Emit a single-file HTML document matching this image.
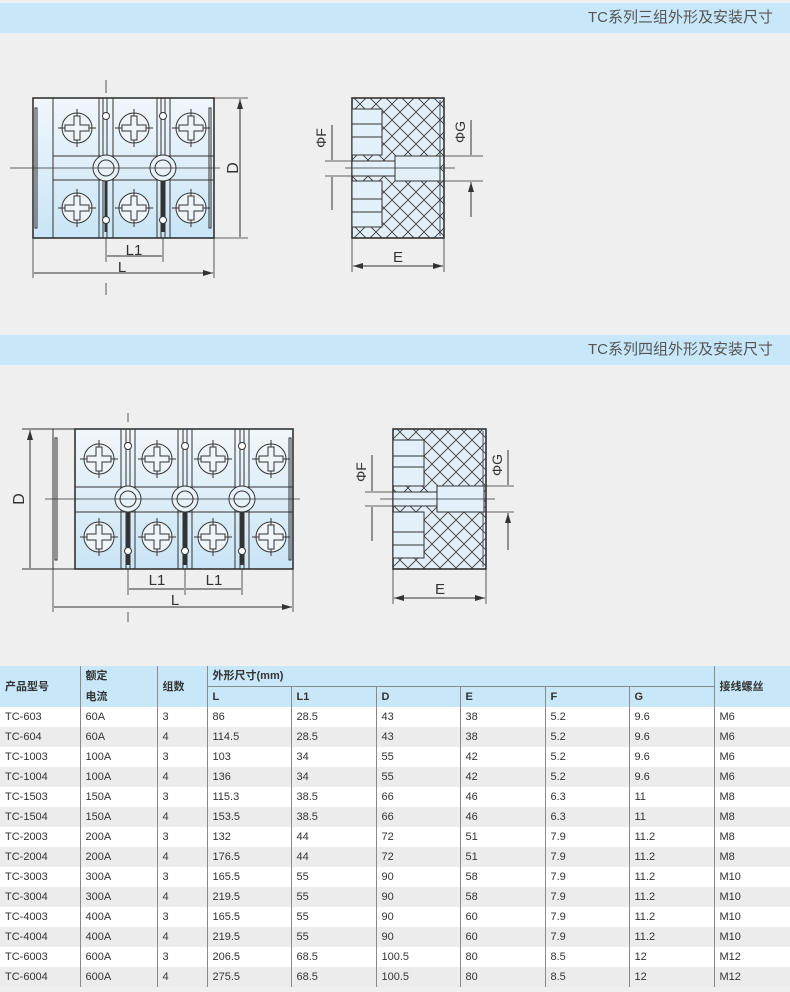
<!DOCTYPE html>
<html><head><meta charset="utf-8"><style>
*{margin:0;padding:0;box-sizing:border-box}
body{width:790px;height:992px;background:#eeefee;position:relative;overflow:hidden;font-family:"Liberation Sans","Noto Sans CJK SC",sans-serif;color:#333}
.bar{position:absolute;left:0;width:790px;height:30px;background:#c8e7f8;font-size:15px;color:#555;text-align:right;padding-right:17px;line-height:30px}
svg{position:absolute;left:0;top:0}
table{position:absolute;left:0;top:666px;width:790px;border-collapse:collapse;table-layout:fixed;font-size:11px}
td{height:20px;padding:0 0 0 5px;border-left:1px solid #8a8a8a;white-space:nowrap;line-height:20px}
td:first-child{border-left:none}
thead td{background:#c8e7f8;font-weight:bold;font-size:11px}
tbody tr:nth-child(even) td{background:#ececec}
tbody tr:nth-child(odd) td{background:#fff}
</style></head><body>
<div class="bar" style="top:3px">TC系列三组外形及安装尺寸</div>
<div class="bar" style="top:335px">TC系列四组外形及安装尺寸</div>
<svg width="790" height="660" viewBox="0 0 790 660">
<defs>
<linearGradient id="gr" x1="0" y1="0" x2="0" y2="1"><stop offset="0" stop-color="#f1f6fa"/><stop offset="1" stop-color="#c9e5f6"/></linearGradient>
<pattern id="ht" patternUnits="userSpaceOnUse" width="16" height="16"><rect width="16" height="16" fill="#e2eef6"/><path d="M0,0L16,16M16,0L0,16" stroke="#333" stroke-width="0.8"/></pattern>
<marker id="ar" viewBox="0 0 10 6" refX="10" refY="3" markerWidth="10" markerHeight="6" orient="auto-start-reverse" markerUnits="userSpaceOnUse"><path d="M0,0L10,3L0,6Z" fill="#333"/></marker>
<g id="sc" fill="none" stroke="#333" stroke-width="1"><circle r="15" fill="#eef5fa"/><path d="M-19,0H19M0,-19V19"/><path d="M-3,-12H3V-3H12V3H3V12H-3V3H-12V-3H-3Z" fill="#eef5fa"/></g>
</defs>
<g stroke="#333" stroke-width="1" fill="none">
<!-- top front view -->
<rect x="33" y="98" width="181" height="140" fill="url(#gr)" stroke-width="1.6"/>
<path d="M53,98V238M99,98V238M103,98V238M107,98V238M113,98V238M157,98V238M161,98V238M165,98V238M170,98V238M53,156H214M53,180H214"/>
<rect x="35" y="108" width="2" height="120"/><rect x="209" y="108" width="2" height="120"/>
<use href="#sc" x="77" y="128"/><use href="#sc" x="134" y="128"/><use href="#sc" x="191" y="128"/>
<use href="#sc" x="77" y="208"/><use href="#sc" x="134" y="208"/><use href="#sc" x="191" y="208"/>
<path d="M106,168V232M163,168V232" stroke-width="3"/>
<circle cx="106" cy="168" r="13" fill="#e8f2f9"/><circle cx="106" cy="168" r="8"/>
<circle cx="163" cy="168" r="13" fill="#e8f2f9"/><circle cx="163" cy="168" r="8"/>
<circle cx="106" cy="116" r="3.5" fill="#fff"/><circle cx="106" cy="220" r="3.5" fill="#fff"/>
<circle cx="163" cy="116" r="3.5" fill="#fff"/><circle cx="163" cy="220" r="3.5" fill="#fff"/>
<path d="M214,98H248M214,238H248M106,238V262M163,238V262M33,238V278M214,238V278M106,80V93M106,283V295M10,168H220" stroke-width="0.8"/>
<path d="M240,99V237M107,256H162M34,273H213" marker-start="url(#ar)" marker-end="url(#ar)"/>
<!-- top side view -->
<rect x="352" y="98" width="92" height="140" fill="url(#ht)" stroke-width="1.6"/>
<path d="M440,100V236" stroke-width="0.8"/>
<rect x="352" y="109" width="30" height="46" fill="#e3f0f9"/><path d="M352,124H382M352,137H382"/>
<rect x="352" y="181" width="30" height="46" fill="#e3f0f9"/><path d="M352,199H382M352,212H382"/>
<rect x="352" y="161" width="43" height="15" fill="#e3f0f9"/>
<rect x="395" y="156" width="45" height="25" fill="#e3f0f9"/>
<path d="M325,161H395M325,176H395M440,156H483M440,181H483M345,168H455M352,238V272M444,238V272" stroke-width="0.8"/>
<path d="M332,125V160M332,210V177M471,120V155M471,217V182" marker-end="url(#ar)"/>
<path d="M353,266H443" marker-start="url(#ar)" marker-end="url(#ar)"/>
<!-- bottom front view -->
<rect x="75" y="429" width="218" height="140" fill="url(#gr)" stroke-width="1.6"/>
<path d="M53,429V569M22,429H75M22,569H75"/>
<rect x="55" y="438" width="2" height="122"/><rect x="289" y="438" width="2" height="122"/>
<path d="M121,429V569M126,429V569M130,429V569M135,429V569M178,429V569M183,429V569M187,429V569M192,429V569M235,429V569M240,429V569M244,429V569M249,429V569M75,487H293M75,512H293"/>
<use href="#sc" x="99" y="459"/><use href="#sc" x="157" y="459"/><use href="#sc" x="213" y="459"/><use href="#sc" x="271" y="459"/>
<use href="#sc" x="99" y="537"/><use href="#sc" x="157" y="537"/><use href="#sc" x="213" y="537"/><use href="#sc" x="271" y="537"/>
<path d="M128,499V565M185,499V565M242,499V565" stroke-width="3"/>
<circle cx="128" cy="499" r="13" fill="#e8f2f9"/><circle cx="128" cy="499" r="8"/>
<circle cx="185" cy="499" r="13" fill="#e8f2f9"/><circle cx="185" cy="499" r="8"/>
<circle cx="242" cy="499" r="13" fill="#e8f2f9"/><circle cx="242" cy="499" r="8"/>
<circle cx="128" cy="446" r="3.5" fill="#fff"/><circle cx="128" cy="551" r="3.5" fill="#fff"/>
<circle cx="185" cy="446" r="3.5" fill="#fff"/><circle cx="185" cy="551" r="3.5" fill="#fff"/>
<circle cx="242" cy="446" r="3.5" fill="#fff"/><circle cx="242" cy="551" r="3.5" fill="#fff"/>
<path d="M128,569V595M185,569V595M242,569V595M53,569V612M293,569V612M128,413V422M128,612V622M45,499H300" stroke-width="0.8"/>
<path d="M30,430V568M129,589H184M186,589H241M54,607H292" marker-start="url(#ar)" marker-end="url(#ar)"/>
<!-- bottom side view -->
<rect x="393" y="429" width="93" height="140" fill="url(#ht)" stroke-width="1.6"/>
<path d="M483,431V567" stroke-width="0.8"/>
<rect x="393" y="440" width="31" height="46" fill="#e3f0f9"/><path d="M393,456H424M393,467H424"/>
<rect x="393" y="512" width="31" height="46" fill="#e3f0f9"/><path d="M393,532H424M393,545H424"/>
<rect x="393" y="492" width="44" height="14" fill="#e3f0f9"/>
<rect x="437" y="486" width="47" height="26" fill="#e3f0f9"/>
<path d="M365,492H437M365,506H437M484,486H514M484,512H514M380,499H495M393,569V604M486,569V604" stroke-width="0.8"/>
<path d="M372,455V491M372,541V507M508,450V485M508,550V513" marker-end="url(#ar)"/>
<path d="M394,598H485" marker-start="url(#ar)" marker-end="url(#ar)"/>
</g>
<g font-family="Liberation Sans, sans-serif" font-size="16" fill="#333" text-anchor="middle">
<text x="134" y="255" font-size="15">L1</text>
<text x="122" y="272" font-size="15">L</text>
<text transform="translate(238,168) rotate(-90)">D</text>
<text x="398" y="262" font-size="15">E</text>
<text transform="translate(326,138) rotate(-90)" font-size="14">ΦF</text>
<text transform="translate(465,132) rotate(-90)" font-size="14">ΦG</text>
<text x="157" y="585" font-size="15">L1</text>
<text x="214" y="585" font-size="15">L1</text>
<text x="175" y="605" font-size="15">L</text>
<text transform="translate(24,499) rotate(-90)">D</text>
<text x="440" y="594" font-size="15">E</text>
<text transform="translate(366,472) rotate(-90)" font-size="14">ΦF</text>
<text transform="translate(502,465) rotate(-90)" font-size="14">ΦG</text>
</g>
</svg>
<table>
<colgroup><col style="width:80px"><col style="width:77px"><col style="width:50px"><col style="width:84px"><col style="width:85px"><col style="width:84px"><col style="width:85px"><col style="width:84px"><col style="width:85px"><col style="width:76px"></colgroup>
<thead>
<tr><td rowspan="2">产品型号</td><td>额定</td><td rowspan="2">组数</td><td colspan="6" style="border-bottom:1px solid #8a8a8a">外形尺寸(mm)</td><td rowspan="2">接线螺丝</td></tr>
<tr><td style="border-left:1px solid #8a8a8a">电流</td><td>L</td><td>L1</td><td>D</td><td>E</td><td>F</td><td>G</td></tr>
</thead>
<tbody>
<tr><td>TC-603</td><td>60A</td><td>3</td><td>86</td><td>28.5</td><td>43</td><td>38</td><td>5.2</td><td>9.6</td><td>M6</td></tr>
<tr><td>TC-604</td><td>60A</td><td>4</td><td>114.5</td><td>28.5</td><td>43</td><td>38</td><td>5.2</td><td>9.6</td><td>M6</td></tr>
<tr><td>TC-1003</td><td>100A</td><td>3</td><td>103</td><td>34</td><td>55</td><td>42</td><td>5.2</td><td>9.6</td><td>M6</td></tr>
<tr><td>TC-1004</td><td>100A</td><td>4</td><td>136</td><td>34</td><td>55</td><td>42</td><td>5.2</td><td>9.6</td><td>M6</td></tr>
<tr><td>TC-1503</td><td>150A</td><td>3</td><td>115.3</td><td>38.5</td><td>66</td><td>46</td><td>6.3</td><td>11</td><td>M8</td></tr>
<tr><td>TC-1504</td><td>150A</td><td>4</td><td>153.5</td><td>38.5</td><td>66</td><td>46</td><td>6.3</td><td>11</td><td>M8</td></tr>
<tr><td>TC-2003</td><td>200A</td><td>3</td><td>132</td><td>44</td><td>72</td><td>51</td><td>7.9</td><td>11.2</td><td>M8</td></tr>
<tr><td>TC-2004</td><td>200A</td><td>4</td><td>176.5</td><td>44</td><td>72</td><td>51</td><td>7.9</td><td>11.2</td><td>M8</td></tr>
<tr><td>TC-3003</td><td>300A</td><td>3</td><td>165.5</td><td>55</td><td>90</td><td>58</td><td>7.9</td><td>11.2</td><td>M10</td></tr>
<tr><td>TC-3004</td><td>300A</td><td>4</td><td>219.5</td><td>55</td><td>90</td><td>58</td><td>7.9</td><td>11.2</td><td>M10</td></tr>
<tr><td>TC-4003</td><td>400A</td><td>3</td><td>165.5</td><td>55</td><td>90</td><td>60</td><td>7.9</td><td>11.2</td><td>M10</td></tr>
<tr><td>TC-4004</td><td>400A</td><td>4</td><td>219.5</td><td>55</td><td>90</td><td>60</td><td>7.9</td><td>11.2</td><td>M10</td></tr>
<tr><td>TC-6003</td><td>600A</td><td>3</td><td>206.5</td><td>68.5</td><td>100.5</td><td>80</td><td>8.5</td><td>12</td><td>M12</td></tr>
<tr><td>TC-6004</td><td>600A</td><td>4</td><td>275.5</td><td>68.5</td><td>100.5</td><td>80</td><td>8.5</td><td>12</td><td>M12</td></tr>
</tbody>
</table>
</body></html>
